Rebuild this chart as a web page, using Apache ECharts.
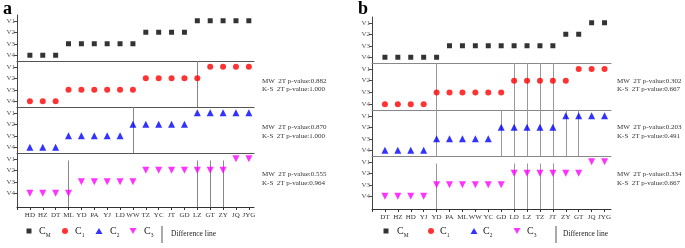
<!DOCTYPE html>
<html>
<head>
<meta charset="UTF-8" />
<title>Cluster levels</title>
<script src="https://cdn.jsdelivr.net/npm/echarts@6/dist/echarts.min.js"></script>
<style>
  html, body { margin: 0; padding: 0; background: #fff; }
  #main { width: 685px; height: 248px; }
</style>
</head>
<body>
<div id="main"></div>
<script type="text/javascript">

// level of each site in each cluster: 1 = V1 ... 4 = V4
var levels = ['V1', 'V2', 'V3', 'V4'];

// panel a
var catsA = ['HD','HZ','DT','ML','YD','PA','YJ','LD','WW','TZ','YC','JT','GD','LZ','GT','ZY','JQ','JYG'];
var cmA   = [4,4,4,3,3,3,3,3,3,2,2,2,2,1,1,1,1,1];
var c1A   = [4,4,4,3,3,3,3,3,3,2,2,2,2,2,1,1,1,1];
var c2A   = [4,4,4,3,3,3,3,3,2,2,2,2,2,1,1,1,1,1];
var c3A   = [4,4,4,4,3,3,3,3,3,2,2,2,2,2,2,2,1,1];
var diffA = [[], ['LZ'], ['WW'], ['ML','LZ','GT','ZY']];
var statsA = [
    ['MW  2T p-value:0.882', 'K-S  2T p-value:1.000'],
    ['MW  2T p-value:0.870', 'K-S  2T p-value:1.000'],
    ['MW  2T p-value:0.555', 'K-S  2T p-value:0.964']
];

// panel b
var catsB = ['DT','HZ','HD','YJ','YD','PA','ML','WW','YC','GD','LD','LZ','TZ','JT','ZY','GT','JQ','JYG'];
var cmB   = [4,4,4,4,4,3,3,3,3,3,3,3,3,3,2,2,1,1];
var c1B   = [4,4,4,4,3,3,3,3,3,3,2,2,2,2,2,1,1,1];
var c2B   = [4,4,4,4,3,3,3,3,3,2,2,2,2,2,1,1,1,1];
var c3B   = [4,4,4,4,3,3,3,3,3,3,2,2,2,2,2,2,1,1];
var diffB = [[], ['YD','LD','LZ','TZ','JT'], ['YD','GD','LD','LZ','TZ','JT','ZY','GT'], ['YD','LD','LZ','TZ','JT']];
var statsB = [
    ['MW  2T p-value:0.302', 'K-S  2T p-value:0.667'],
    ['MW  2T p-value:0.203', 'K-S  2T p-value:0.491'],
    ['MW  2T p-value:0.334', 'K-S  2T p-value:0.667']
];

var FONT = '"Liberation Serif", "DejaVu Serif", serif';

// marker look for each cluster row
var marks = [
    { name: 'C_M', symbol: 'rect',     size: 5, color: '#000000', rotate: 0 },
    { name: 'C_1', symbol: 'circle',   size: 6, color: '#ff0000', rotate: 0 },
    { name: 'C_2', symbol: 'triangle', size: 7, color: '#0000ff', rotate: 0 },
    { name: 'C_3', symbol: 'triangle', size: 7, color: '#ff00ff', rotate: 180 }
];

var panels = [
    { cats: catsA, rows: [cmA, c1A, c2A, c3A], diffs: diffA, stats: statsA,
      left: 17, width: 237, xMax: 18.4, tops: [15, 61, 107, 153], heights: [46, 46, 46, 54],
      divider: '#555', diffColor: '#888', statX: 262, statY: [[82, 90], [128, 137], [175, 184]],
      tag: 'a', tagX: 3,
      legendIcons: [29, 65, 99, 133, 162], legendTexts: [39, 75, 110, 144, 171] },
    { cats: catsB, rows: [cmB, c1B, c2B, c3B], diffs: diffB, stats: statsB,
      left: 372, width: 239, xMax: 18.5, tops: [17, 63, 110, 156], heights: [46, 47, 46, 53],
      divider: '#888', diffColor: '#999', statX: 617, statY: [[82, 90], [128, 137], [175, 184]],
      tag: 'b', tagX: 358,
      legendIcons: [386, 431, 474, 517, 556], legendTexts: [397, 440, 483, 527, 563] }
];

var grids = [], xAxes = [], yAxes = [], series = [], graphics = [], legends = [];
var rowPx = 11.5;

panels.forEach(function (p, pi) {
    for (var r = 0; r < 4; r++) {
        var gi = grids.length;
        var last = r === 3;
        var yMax = last ? 0.5 + p.heights[r] / rowPx : 4.5;
        grids.push({ left: p.left, top: p.tops[r], width: p.width, height: p.heights[r] });

        var ticks = [], labs = [];
        for (var k = 0; k <= p.cats.length; k++) { ticks.push(k); if (k > 0) labs.push(k); }
        (function (cats) {
            xAxes.push({
                gridIndex: gi, type: 'value', min: 0, max: p.xMax,
                splitLine: { show: false },
                axisLine: { show: true, onZero: false, lineStyle: { color: last ? '#333' : p.divider, width: last ? 1 : 1.2 } },
                axisTick: { show: last, customValues: ticks, length: 3, lineStyle: { color: '#333' } },
                axisLabel: {
                    show: last, customValues: labs, margin: 5, fontSize: 7, color: '#333', fontFamily: FONT,
                    formatter: function (v) { return cats[Math.round(v) - 1] || ''; }
                }
            });
        })(p.cats);

        yAxes.push({
            gridIndex: gi, type: 'value', inverse: true, min: 0.5, max: yMax,
            splitLine: { show: false },
            axisLine: { show: true, onZero: false, lineStyle: { color: '#444' } },
            axisTick: { show: true, customValues: [1, 2, 3, 4], length: 3, lineStyle: { color: '#444' } },
            axisLabel: {
                customValues: [1, 2, 3, 4], margin: 2, fontSize: 7, color: '#555', fontFamily: FONT,
                formatter: function (v) { return levels[Math.round(v) - 1]; }
            }
        });

        var m = marks[r];
        var from = last ? 1.15 : 0.5;
        var lines = p.diffs[r].map(function (name) {
            var x = p.cats.indexOf(name) + 1;
            return [{ coord: [x, from] }, { coord: [x, yMax] }];
        });
        series.push({
            name: m.name, type: 'scatter', xAxisIndex: gi, yAxisIndex: gi,
            symbol: m.symbol, symbolSize: m.size, symbolRotate: m.rotate,
            itemStyle: { color: m.color },
            data: p.rows[r].map(function (v, i) { return [i + 1, v]; }),
            markLine: {
                silent: true, symbol: ['none', 'none'], label: { show: false },
                lineStyle: { color: p.diffColor, width: 1, type: 'solid' },
                emphasis: { disabled: true },
                z: 1,
                data: lines
            },
            z: 3
        });

        if (r > 0) {
            graphics.push({ type: 'text', left: p.statX, top: p.statY[r - 1][0] - 4,
                style: { text: p.stats[r - 1][0], fontSize: 7, fontFamily: FONT, fill: '#333' } });
            graphics.push({ type: 'text', left: p.statX, top: p.statY[r - 1][1] - 4,
                style: { text: p.stats[r - 1][1], fontSize: 7, fontFamily: FONT, fill: '#333' } });
        }
    }

    graphics.push({ type: 'text', left: p.tagX, top: 0,
        style: { text: p.tag, fontSize: 18, fontWeight: 'bold', fontFamily: FONT, fill: '#000' } });

    // legend, one small legend per entry
    var names = ['C_M', 'C_1', 'C_2', 'C_3', 'Difference line'];
    names.forEach(function (nm, li) {
        var isLine = li === 4;
        var w = isLine ? 2 : [5, 6, 7, 7][li];
        var h = isLine ? 17 : [5, 6, 6, 6][li];
        var left = p.legendIcons[li] - w / 2;
        var pad = p.legendTexts[li] - (left + w + 5);
        legends.push({
            left: left, top: 226, padding: 0, itemGap: 0,
            itemWidth: w, itemHeight: h, selectedMode: false,
            data: [isLine
                ? { name: nm, icon: 'rect', itemStyle: { color: '#aaa' } }
                : { name: nm, icon: li === 3 ? 'path://M0,0 L2,0 L1,1.7 Z' : (li === 2 ? 'path://M1,0 L2,1.7 L0,1.7 Z' : marks[li].symbol) }],
            formatter: function (name) {
                if (name === 'Difference line') return '{d|Difference line}';
                return '{c|C}{s|' + name.split('_')[1] + '}';
            },
            textStyle: {
                padding: [0, 0, 0, Math.max(pad, 0)],
                rich: {
                    c: { fontSize: 10, fontFamily: FONT, color: '#222', lineHeight: 12 },
                    s: { fontSize: 5.5, fontFamily: FONT, color: '#222', lineHeight: 15, verticalAlign: 'bottom' },
                    d: { fontSize: 7.5, fontFamily: FONT, color: '#222', lineHeight: 17 }
                }
            }
        });
    });
});

// dummy series so the legend has a "Difference line" entry
series.push({ name: 'Difference line', type: 'line', data: [], xAxisIndex: 0, yAxisIndex: 0, itemStyle: { color: '#aaa' } });

var option = {
    backgroundColor: '#fff',
    animation: false,
    grid: grids,
    xAxis: xAxes,
    yAxis: yAxes,
    series: series,
    legend: legends,
    graphic: graphics
};

var myChart = echarts.init(document.getElementById('main'));
myChart.setOption(option);
</script>
</body>
</html>
